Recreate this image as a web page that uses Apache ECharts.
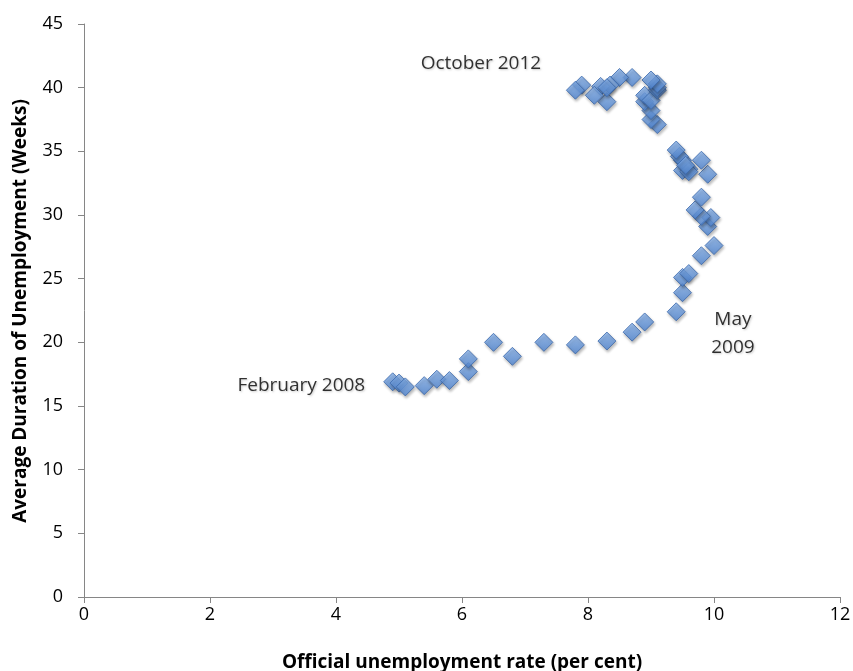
<!DOCTYPE html>
<html>
<head>
<meta charset="utf-8">
<script src="https://cdn.jsdelivr.net/npm/echarts@6/dist/echarts.min.js"></script>
<style>
  html, body { margin: 0; padding: 0; background: #fff; }
  #chart { width: 853px; height: 671px; }
</style>
</head>
<body>
<div id="chart"></div>
<script>
// unemployment rate (per cent), Feb 2008 .. Oct 2012
const rate = [
  4.9, 5.0, 5.1, 5.4, 5.6, 5.8, 6.1, 6.1, 6.5, 6.8, 7.3, 7.8, 8.3, 8.7, 8.9,
  9.4, 9.5, 9.5, 9.6, 9.8, 10.0, 9.9, 9.95, 9.8, 9.7, 9.8, 9.9, 9.8, 9.6, 9.5,
  9.5, 9.45, 9.4, 9.6, 9.55, 9.1, 9.0, 9.0, 8.9, 8.9, 9.0, 9.1, 9.1, 9.1, 9.0,
  8.7, 8.5, 8.3, 8.35, 8.2, 8.3, 8.1, 7.9, 7.8
];
// average duration of unemployment (weeks)
const weeks = [
  16.9, 16.8, 16.5, 16.6, 17.1, 17.0, 17.7, 18.7, 20.0, 18.9, 20.0, 19.8, 20.1, 20.8, 21.6,
  22.4, 23.9, 25.1, 25.4, 26.8, 27.6, 29.1, 29.8, 29.9, 30.4, 31.4, 33.2, 34.3, 33.6, 33.5,
  34.3, 34.6, 35.1, 33.4, 33.9, 37.1, 37.5, 38.2, 38.9, 39.4, 39.0, 39.8, 40.0, 40.3, 40.6,
  40.8, 40.8, 38.9, 40.2, 40.1, 40.0, 39.4, 40.2, 39.8
];

const xTicks = [0, 2, 4, 6, 8, 10, 12];
const yTicks = [0, 5, 10, 15, 20, 25, 30, 35, 40, 45];

// text notes placed in data units
const notes = [
  { text: 'October 2012', at: [6.3, 41.9] },
  { text: 'February 2008', at: [3.45, 16.6] },
  { text: 'May\n2009', at: [10.3, 20.7] }
];

const font = '"Open Sans", "Noto Sans", sans-serif';
const points = rate.map((r, i) => [r, weeks[i]]);

const chart = echarts.init(document.getElementById('chart'), null, { renderer: 'canvas' });

chart.setOption({
  animation: false,
  grid: { left: 84, right: 13, top: 24, bottom: 74, outerBoundsMode: 'none' },
  graphic: [
    {
      type: 'text',
      x: 21,
      y: 311,
      rotation: Math.PI / 2,
      style: {
        text: 'Average Duration of Unemployment (Weeks)',
        fontFamily: font,
        fontWeight: 'bold',
        fontSize: 19,
        fill: '#000',
        align: 'center',
        verticalAlign: 'middle'
      }
    }
  ],
  xAxis: {
    type: 'value',
    min: xTicks[0],
    max: xTicks[xTicks.length - 1],
    interval: 2,
    name: 'Official unemployment rate (per cent)',
    nameLocation: 'middle',
    nameGap: 56,
    nameTextStyle: { fontFamily: font, fontWeight: 'bold', fontSize: 19, color: '#000' },
    axisLine: { lineStyle: { color: '#868686', width: 1 } },
    axisTick: { show: true, length: 6, lineStyle: { color: '#868686' } },
    axisLabel: { fontFamily: font, fontSize: 18, color: '#000', margin: 9 },
    splitLine: { show: false }
  },
  yAxis: {
    type: 'value',
    min: yTicks[0],
    max: yTicks[yTicks.length - 1],
    interval: 5,
    axisLine: { show: true, lineStyle: { color: '#868686', width: 1 } },
    axisTick: { show: true, length: 6, lineStyle: { color: '#868686' } },
    axisLabel: { fontFamily: font, fontSize: 18, color: '#000', margin: 21 },
    splitLine: { show: false }
  },
  series: [
    {
      type: 'scatter',
      symbol: 'diamond',
      symbolSize: 18,
      data: points,
      itemStyle: {
        color: new echarts.graphic.LinearGradient(0, 0, 0, 1, [
          { offset: 0, color: '#8ab5ee' },
          { offset: 1, color: '#4f86d4' }
        ]),
        borderColor: '#3b68aa',
        borderWidth: 1,
        shadowColor: 'rgba(0,0,0,0.35)',
        shadowBlur: 3,
        shadowOffsetX: 1,
        shadowOffsetY: 2
      }
    },
    {
      type: 'scatter',
      symbolSize: 0,
      silent: true,
      data: notes.map(n => ({ value: n.at, name: n.text })),
      label: {
        show: true,
        position: 'inside',
        formatter: p => p.name,
        fontFamily: font,
        fontSize: 19,
        lineHeight: 28,
        color: '#000',
        align: 'center',
        textShadowColor: 'rgba(0,0,0,0.25)',
        textShadowBlur: 2,
        textShadowOffsetX: 1,
        textShadowOffsetY: 1
      }
    }
  ]
});
</script>
</body>
</html>
